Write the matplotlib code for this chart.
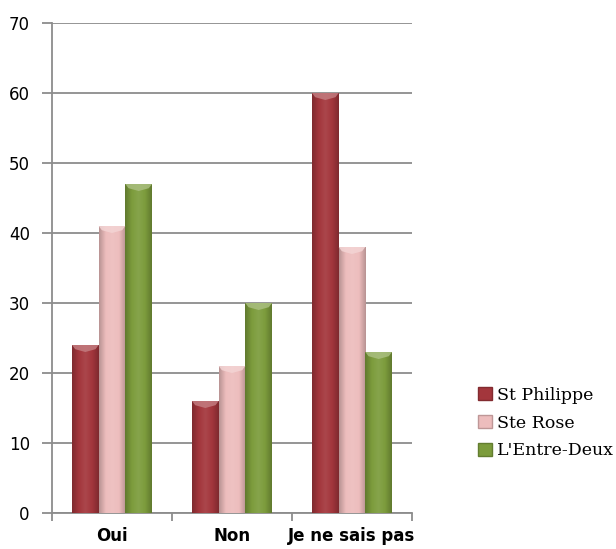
import numpy as np
import matplotlib
matplotlib.use("Agg")
import matplotlib.pyplot as plt
from matplotlib.colors import LinearSegmentedColormap, to_rgb
from matplotlib.patches import Patch, Polygon

categories = ["Oui", "Non", "Je ne sais pas"]
series_names = ["St Philippe", "Ste Rose", "L'Entre-Deux"]
st_philippe = [24, 16, 60]
ste_rose = [41, 21, 38]
entre_deux = [47, 30, 23]
values = [st_philippe, ste_rose, entre_deux]
y_ticks = [0, 10, 20, 30, 40, 50, 60, 70]

base_colors = ["#A3363C", "#EDBDBD", "#7C9C3C"]

def shade(c, f):
    r, g, b = to_rgb(c)
    if f < 1:
        return (r * f, g * f, b * f)
    f = f - 1
    return (r + (1 - r) * f, g + (1 - g) * f, b + (1 - b) * f)

fig = plt.figure(figsize=(6.16, 5.49), dpi=100)
ax = fig.add_axes([52 / 616, 36 / 549, 360 / 616, 490 / 549])

n = len(series_names)
gap = 1.5
width = 1.0 / (n + gap)
x = np.arange(len(categories))
grad = np.linspace(0, 1, 64).reshape(1, -1)

for i, (name, vals) in enumerate(zip(series_names, values)):
    c = base_colors[i]
    cmap = LinearSegmentedColormap.from_list(
        name, [shade(c, 0.78), shade(c, 1.0), shade(c, 1.08), shade(c, 1.0), shade(c, 0.78)])
    for j, v in enumerate(vals):
        x0 = x[j] - (n * width) / 2 + i * width
        x1 = x0 + width
        ax.imshow(grad, cmap=cmap, extent=(x0, x1, 0, v), aspect="auto",
                  interpolation="bilinear", zorder=3)
        xc = (x0 + x1) / 2
        tri = Polygon([(x0, v), (x1, v), (x1 - width * 0.12, v - 0.6),
                       (xc, v - 1.0), (x0 + width * 0.12, v - 0.6)],
                      closed=True, facecolor=shade(c, 1.35), edgecolor="none",
                      alpha=0.85, zorder=4)
        ax.add_patch(tri)

ax.set_xlim(-0.5, len(categories) - 0.5)
ax.set_ylim(0, 70)
ax.set_yticks(y_ticks)
ax.set_yticklabels([str(t) for t in y_ticks], fontsize=12, family="DejaVu Sans")
ax.yaxis.grid(True, color="#8C8C8C", linewidth=1.3, zorder=1)
ax.set_axisbelow(True)

ax.set_xticks(x)
ax.set_xticklabels(categories, fontsize=12, fontweight="bold", family="DejaVu Sans")
ax.set_xticks(np.arange(len(categories) + 1) - 0.5, minor=True)
ax.tick_params(axis="x", which="major", length=0, pad=10)
ax.tick_params(axis="x", which="minor", length=6, width=1.3, color="#8C8C8C")
ax.tick_params(axis="y", length=7, width=1.3, color="#8C8C8C", pad=9)

for s in ["top", "right"]:
    ax.spines[s].set_visible(False)
for s in ["left", "bottom"]:
    ax.spines[s].set_color("#8C8C8C")
    ax.spines[s].set_linewidth(1.3)

handles = [Patch(facecolor=base_colors[i], edgecolor=shade(base_colors[i], 0.8),
                 label=series_names[i]) for i in range(n)]
leg = fig.legend(handles=handles, loc="center left", bbox_to_anchor=(469 / 616, 1 - 423 / 549),
                 frameon=False, prop={"family": "DejaVu Serif", "size": 12.5},
                 handlelength=0.8, handleheight=0.8, handletextpad=0.3,
                 labelspacing=0.62, borderpad=0)

fig.savefig("out.png", dpi=100)
